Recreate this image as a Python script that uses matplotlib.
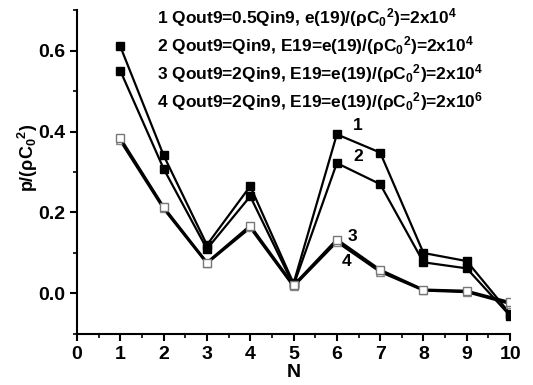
import matplotlib
matplotlib.use("Agg")
import matplotlib.pyplot as plt
from matplotlib.ticker import MultipleLocator

plt.rcParams['font.family'] = ['Liberation Sans', 'DejaVu Sans']
plt.rcParams['font.weight'] = 'bold'
plt.rcParams['mathtext.fontset'] = 'custom'
plt.rcParams['mathtext.rm'] = 'Liberation Sans:bold'
plt.rcParams['mathtext.bf'] = 'Liberation Sans:bold'
plt.rcParams['mathtext.it'] = 'Liberation Sans:bold'
plt.rcParams['mathtext.default'] = 'bf'

N = [1, 2, 3, 4, 5, 6, 7, 8, 9, 10]
s1 = [0.610, 0.341, 0.120, 0.265, 0.025, 0.393, 0.348, 0.100, 0.080, -0.050]
s2 = [0.550, 0.308, 0.110, 0.240, 0.020, 0.322, 0.270, 0.077, 0.062, -0.055]
s3 = [0.383, 0.213, 0.076, 0.167, 0.020, 0.133, 0.058, 0.009, 0.006, -0.022]
s4 = [0.378, 0.210, 0.075, 0.163, 0.018, 0.128, 0.054, 0.008, 0.004, -0.025]

legend_lines = [
    r'1 Qout9=0.5Qin9, e(19)/($\rho$C$_0$$^2$)=2x10$^4$',
    r'2 Qout9=Qin9, E19=e(19)/($\rho$C$_0$$^2$)=2x10$^4$',
    r'3 Qout9=2Qin9, E19=e(19)/($\rho$C$_0$$^2$)=2x10$^4$',
    r'4 Qout9=2Qin9, E19=e(19)/($\rho$C$_0$$^2$)=2x10$^6$',
]
curve_labels = ['1', '2', '3', '4']
label_pos = [(6.49, 0.415), (6.49, 0.338), (6.37, 0.141), (6.23, 0.079)]

fig = plt.figure(figsize=(5.33, 3.85), dpi=100)
ax = fig.add_axes([0.1445, 0.1325, 0.8125, 0.8415])

ax.plot(N, s1, '-', color='black', lw=1.6, marker='s', ms=6, mfc='black', mec='black', zorder=3)
ax.plot(N, s2, '-', color='black', lw=1.6, marker='s', ms=6, mfc='black', mec='black', zorder=3)
ax.plot(N, s4, '-', color='black', lw=2.0, marker='^', ms=6, mfc='white', mec='#888888', zorder=3)
ax.plot(N, s3, '-', color='black', lw=2.0, marker='s', ms=6, mfc='white', mec='#777777', zorder=4)

for t, (x, y) in zip(curve_labels, label_pos):
    ax.text(x, y, t, fontsize=12.5, fontweight='bold', ha='center', va='center')

for i, t in enumerate(legend_lines):
    ax.text(1.85, 0.682 - i * 0.069, t, fontsize=12.5, fontweight='bold', ha='left', va='center')

ax.set_xlim(0, 10)
ax.set_ylim(-0.1, 0.7)
ax.xaxis.set_major_locator(MultipleLocator(1))
ax.xaxis.set_minor_locator(MultipleLocator(0.5))
ax.yaxis.set_major_locator(MultipleLocator(0.2))
ax.yaxis.set_minor_locator(MultipleLocator(0.1))
ax.set_yticks([0.0, 0.2, 0.4, 0.6])
ax.set_yticklabels(['0.0', '0.2', '0.4', '0.6'])
ax.tick_params(which='major', direction='out', length=5, width=1.5, labelsize=14)
ax.tick_params(which='minor', direction='out', length=3, width=1.2)
for lbl in ax.get_xticklabels() + ax.get_yticklabels():
    lbl.set_fontweight('bold')

ax.spines['top'].set_visible(False)
ax.spines['right'].set_visible(False)
ax.spines['left'].set_linewidth(1.5)
ax.spines['bottom'].set_linewidth(1.5)

ax.set_xlabel('N', fontsize=14, fontweight='bold', labelpad=1)
ax.set_ylabel(r'p/($\rho$C$_0$$^2$)', fontsize=13, fontweight='bold', va='center')
ax.yaxis.set_label_coords(-0.113, 0.545)

fig.savefig('out.png', dpi=100)
